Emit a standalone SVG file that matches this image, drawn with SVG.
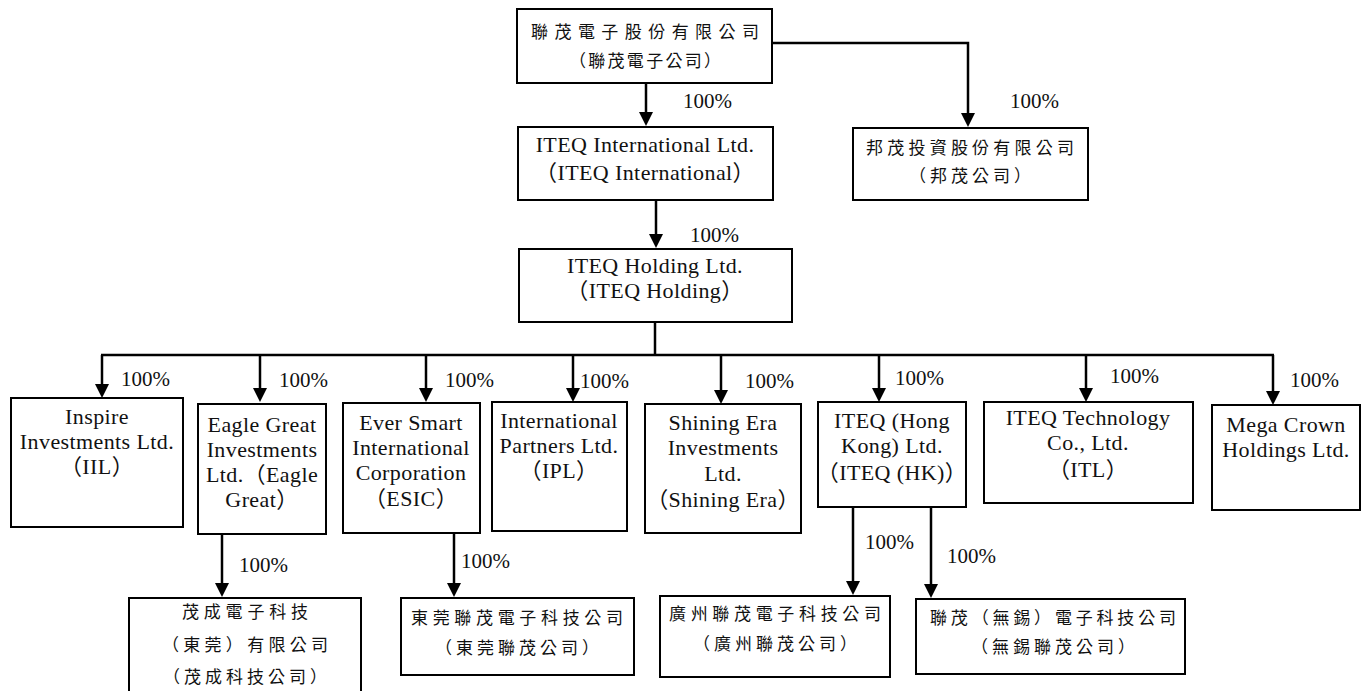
<svg xmlns="http://www.w3.org/2000/svg" width="1368" height="691" viewBox="0 0 1368 691">
<style>
.bg{fill:#fff}
.box{fill:#fff;stroke:#000;stroke-width:2}
.t{font-family:"Liberation Serif","Noto Sans CJK TC",serif;font-size:22px;letter-spacing:0.4px;text-anchor:middle;fill:#111}
.c{font-family:"Noto Sans CJK TC","Noto Sans CJK SC",sans-serif;font-size:17px;text-anchor:middle;fill:#111}
.lbl{font-family:"Liberation Serif",serif;font-size:21px;fill:#111}
.conn{stroke:#000;stroke-width:2.5;fill:none}
.arr{stroke:#000;stroke-width:2.5;fill:none;marker-end:url(#ah)}
</style>
<defs>
<marker id="ah" markerUnits="userSpaceOnUse" markerWidth="16" markerHeight="16" viewBox="0 0 16 16" refX="6" refY="8" orient="auto">
<path d="M0,1 L14,8 L0,15 z" fill="#000"/>
</marker>
</defs>
<rect class="bg" x="0" y="0" width="1368" height="691"/>

<g id="connectors">
<path class="arr" d="M646,83 V118"/>
<path class="arr" d="M772,43 H968 V119"/>
<path class="arr" d="M656,200 V240"/>
<path class="conn" d="M655,322 V355"/>
<path class="conn" d="M101,355 H1274"/>
<path class="arr" d="M102,355 V390"/>
<path class="arr" d="M260,355 V394"/>
<path class="arr" d="M426,355 V394"/>
<path class="arr" d="M573,355 V394"/>
<path class="arr" d="M721,355 V396"/>
<path class="arr" d="M879,355 V394"/>
<path class="arr" d="M1086,355 V394"/>
<path class="arr" d="M1273,355 V397"/>
<path class="arr" d="M222,534 V589"/>
<path class="arr" d="M454,533 V589"/>
<path class="arr" d="M853,507 V587"/>
<path class="arr" d="M931,507 V590"/>
</g>

<g id="labels">
<text class="lbl" x="683" y="108">100%</text>
<text class="lbl" x="1010" y="108">100%</text>
<text class="lbl" x="690" y="242">100%</text>
<text class="lbl" x="121" y="386">100%</text>
<text class="lbl" x="279" y="387">100%</text>
<text class="lbl" x="445" y="387">100%</text>
<text class="lbl" x="580" y="388">100%</text>
<text class="lbl" x="745" y="388">100%</text>
<text class="lbl" x="895" y="385">100%</text>
<text class="lbl" x="1110" y="383">100%</text>
<text class="lbl" x="1290" y="387">100%</text>
<text class="lbl" x="239" y="572">100%</text>
<text class="lbl" x="461" y="568">100%</text>
<text class="lbl" x="865" y="549">100%</text>
<text class="lbl" x="947" y="563">100%</text>
</g>

<g id="n-iteq-parent">
<rect class="box" x="517" y="9" width="255" height="74"/>
<text class="c" x="645" y="38" textLength="228" lengthAdjust="spacing">聯茂電子股份有限公司</text>
<text class="c" x="645" y="67" textLength="152" lengthAdjust="spacing">（聯茂電子公司）</text>
</g>

<g id="n-bangmao">
<rect class="box" x="853" y="128" width="235" height="72"/>
<text class="c" x="970" y="154" textLength="208" lengthAdjust="spacing">邦茂投資股份有限公司</text>
<text class="c" x="970" y="182" textLength="122" lengthAdjust="spacing">（邦茂公司）</text>
</g>

<g id="n-iteq-intl">
<rect class="box" x="518" y="127" width="255" height="73"/>
<text class="t" x="645" y="152">ITEQ International Ltd.</text>
<text class="t" x="645" y="180">（ITEQ International）</text>
</g>

<g id="n-iteq-holding">
<rect class="box" x="519" y="249" width="273" height="73"/>
<text class="t" x="655" y="273">ITEQ Holding Ltd.</text>
<text class="t" x="655" y="298">（ITEQ Holding）</text>
</g>

<g id="n-iil">
<rect class="box" x="11" y="398" width="172" height="129"/>
<text class="t" x="97" y="424">Inspire</text>
<text class="t" x="97" y="449">Investments Ltd.</text>
<text class="t" x="97" y="474">（IIL）</text>
</g>

<g id="n-eagle">
<rect class="box" x="198" y="404" width="128" height="130"/>
<text class="t" x="262" y="432">Eagle Great</text>
<text class="t" x="262" y="457">Investments</text>
<text class="t" x="262" y="482">Ltd.（Eagle</text>
<text class="t" x="262" y="507">Great）</text>
</g>

<g id="n-esic">
<rect class="box" x="343" y="403" width="137" height="130"/>
<text class="t" x="411" y="430">Ever Smart</text>
<text class="t" x="411" y="455">International</text>
<text class="t" x="411" y="480">Corporation</text>
<text class="t" x="411" y="506">（ESIC）</text>
</g>

<g id="n-ipl">
<rect class="box" x="492" y="402" width="135" height="129"/>
<text class="t" x="559" y="428">International</text>
<text class="t" x="559" y="453">Partners Ltd.</text>
<text class="t" x="559" y="478">（IPL）</text>
</g>

<g id="n-shining">
<rect class="box" x="645" y="404" width="156" height="129"/>
<text class="t" x="723" y="430">Shining Era</text>
<text class="t" x="723" y="455">Investments</text>
<text class="t" x="723" y="481">Ltd.</text>
<text class="t" x="723" y="507">（Shining Era）</text>
</g>

<g id="n-hk">
<rect class="box" x="818" y="402" width="148" height="105"/>
<text class="t" x="892" y="428">ITEQ (Hong</text>
<text class="t" x="892" y="453">Kong) Ltd.</text>
<text class="t" x="892" y="480">（ITEQ (HK)）</text>
</g>

<g id="n-itl">
<rect class="box" x="984" y="402" width="209" height="101"/>
<text class="t" x="1088" y="425">ITEQ Technology</text>
<text class="t" x="1088" y="450">Co., Ltd.</text>
<text class="t" x="1088" y="477">（ITL）</text>
</g>

<g id="n-mega">
<rect class="box" x="1212" y="405" width="148" height="105"/>
<text class="t" x="1286" y="432">Mega Crown</text>
<text class="t" x="1286" y="457">Holdings Ltd.</text>
</g>

<g id="n-maocheng">
<rect class="box" x="129" y="598" width="232" height="110"/>
<text class="c" x="245" y="618" textLength="126" lengthAdjust="spacing">茂成電子科技</text>
<text class="c" x="245" y="651" textLength="166" lengthAdjust="spacing">（東莞）有限公司</text>
<text class="c" x="245" y="683" textLength="164" lengthAdjust="spacing">（茂成科技公司）</text>
</g>

<g id="n-dongguan">
<rect class="box" x="401" y="598" width="233" height="77"/>
<text class="c" x="517" y="624" textLength="212" lengthAdjust="spacing">東莞聯茂電子科技公司</text>
<text class="c" x="517" y="654" textLength="164" lengthAdjust="spacing">（東莞聯茂公司）</text>
</g>

<g id="n-guangzhou">
<rect class="box" x="660" y="596" width="230" height="81"/>
<text class="c" x="775" y="620" textLength="212" lengthAdjust="spacing">廣州聯茂電子科技公司</text>
<text class="c" x="775" y="650" textLength="164" lengthAdjust="spacing">（廣州聯茂公司）</text>
</g>

<g id="n-wuxi">
<rect class="box" x="916" y="599" width="269" height="75"/>
<text class="c" x="1053" y="624" textLength="246" lengthAdjust="spacing">聯茂（無錫）電子科技公司</text>
<text class="c" x="1053" y="653" textLength="164" lengthAdjust="spacing">（無錫聯茂公司）</text>
</g>
</svg>
